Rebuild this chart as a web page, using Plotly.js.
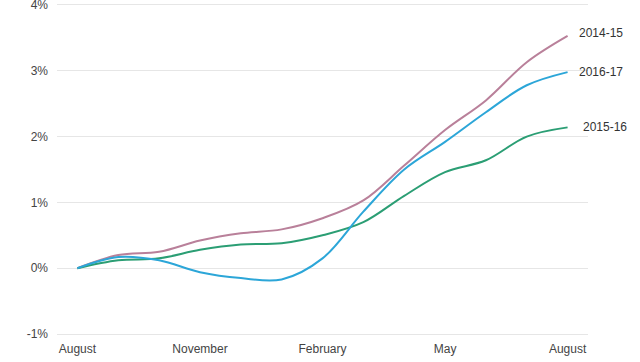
<!DOCTYPE html>
<html>
<head>
<meta charset="utf-8">
<script src="https://cdn.plot.ly/plotly-3.0.1.min.js"></script>
<style>html,body{margin:0;padding:0;background:#fff;}#chart{width:640px;height:362px;}</style>
</head>
<body>
<div id="chart"></div>
<script>
const months = ["Aug","Sep","Oct","Nov","Dec","Jan","Feb","Mar","Apr","May","Jun","Jul","Aug2"];
const tickLabels = ["August","November","February","May","August"];
const tickIndex = [0,3,6,9,12];
const s1415 = [0, 0.20, 0.25, 0.42, 0.53, 0.59, 0.76, 1.03, 1.56, 2.10, 2.55, 3.13, 3.53];
const s1516 = [0, 0.12, 0.15, 0.28, 0.36, 0.38, 0.50, 0.70, 1.10, 1.46, 1.64, 2.00, 2.14];
const s1617 = [0, 0.17, 0.12, -0.06, -0.15, -0.17, 0.15, 0.86, 1.50, 1.92, 2.37, 2.78, 2.98];
const seriesNames = ["2014-15","2015-16","2016-17"];
const colors = ["#b9809a","#2b9e74","#2ca6d8"];

const xs = months.map((m,i)=>i);
const data = [s1415, s1516, s1617].map((vals,k)=>({
  x: xs, y: vals, type:"scatter", mode:"lines", name: seriesNames[k],
  line:{color:colors[k], width:2, shape:"spline", smoothing:1},
  hoverinfo:"skip"
}));
const annotations = [s1415, s1516, s1617].map((vals,k)=>({
  x: xs[xs.length-1], y: vals[vals.length-1], xref:"x", yref:"y",
  text: seriesNames[k], showarrow:false, xanchor:"left", yanchor:"middle",
  xshift: k===1 ? 13 : 9, yshift: k===0 ? 3 : 0,
  font:{family:"Liberation Sans, Arial, sans-serif", size:12, color:"#333"}
}));
const layout = {
  width:640, height:362,
  margin:{l:57, r:52, t:3, b:26},
  paper_bgcolor:"#fff", plot_bgcolor:"#fff",
  showlegend:false,
  font:{family:"Liberation Sans, Arial, sans-serif", size:12, color:"#444"},
  xaxis:{range:[-0.5,12.5], tickmode:"array", tickvals:tickIndex, ticktext:tickLabels,
    showgrid:false, zeroline:false, showline:false, ticks:"", ticklabelstandoff:4,
    tickfont:{size:12, color:"#444"}, fixedrange:true},
  yaxis:{range:[-1.03,4.03], tickvals:[-1,0,1,2,3,4], ticktext:["-1%","0%","1%","2%","3%","4%"],
    showgrid:true, gridcolor:"#e6e6e6", gridwidth:1, zeroline:false, showline:false, ticks:"",
    ticklabelstandoff:8, ticklabeloverflow:"allow", tickfont:{size:12, color:"#444"}, fixedrange:true},
  annotations: annotations
};
Plotly.newPlot("chart", data, layout, {staticPlot:true, displayModeBar:false});
</script>
</body>
</html>
